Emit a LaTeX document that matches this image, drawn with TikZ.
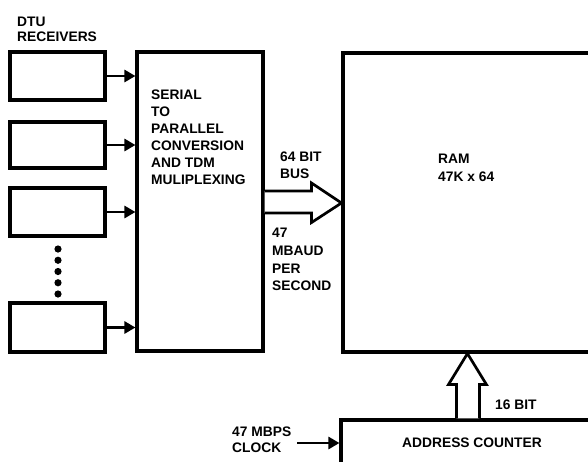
\documentclass[tikz,border=0pt]{standalone}
\usepackage{fontspec}
\setmainfont{Liberation Sans}
\usetikzlibrary{arrows.meta,calc}
\begin{document}
\begin{tikzpicture}[x=1pt,y=-1pt,
  box/.style={draw, line width=3.1pt, inner sep=0pt},
  conn/.style={line width=2.7pt, -{Triangle[length=11pt,width=12pt]}},
  bus/.style={draw, fill=white, line width=2.7pt, line join=miter},
  lbl/.style={inner sep=0pt, anchor=north west, align=left, font=\bfseries\fontsize{13.8}{#1}\selectfont},
  lbl/.default=17pt]
\clip (0,0) rectangle (588,461);
% receivers
\node[box, minimum width=95pt, minimum height=48pt] (r1) at (57.5,76) {};
\node[box, minimum width=95pt, minimum height=46pt] (r2) at (57.5,145) {};
\node[box, minimum width=95pt, minimum height=48pt] (r3) at (57.5,212) {};
\node[box, minimum width=95pt, minimum height=49pt] (r4) at (57.5,327.5) {};
\foreach \yy in {249,260.25,271.5,282.75,294} \fill (58,\yy) circle (3.6pt);
% main blocks
\node[box, minimum width=126pt, minimum height=299pt] (ser) at (200,201.5) {};
\node[box, minimum width=277pt, minimum height=299pt] (ram) at (481.5,202.5) {};
\node[box, minimum width=279pt, minimum height=80pt] (addr) at (480.5,460) {};
% connectors from receivers
\draw[conn] (r1.east) -- (r1.east -| ser.west);
\draw[conn] (r2.east) -- (r2.east -| ser.west);
\draw[conn] (r3.east) -- (r3.east -| ser.west);
\draw[conn] (r4.east) -- (r4.east -| ser.west);
% bus arrow to RAM
\draw[bus] ($(ser.east)+(0,-10.5)$) -- ($(ser.east)+(47,-10.5)$) -- ($(ser.east)+(47,-18.5)$)
  -- ($(ram.west)+(0,0.5)$) -- ($(ser.east)+(47,21)$) -- ($(ser.east)+(47,11.5)$) -- ($(ser.east)+(0,11.5)$);
% address bus up to RAM
\draw[bus] ($(addr.north west)+(117,0)$) -- ($(ram.south west)+(115,31)$) -- ($(ram.south west)+(107,31)$)
  -- ($(ram.south west)+(126,0)$) -- ($(ram.south west)+(145,31)$) -- ($(ram.south west)+(138,31)$)
  -- ($(addr.north west)+(140,0)$);
% clock
\coordinate (clkin) at (297,443);
\draw[conn] (clkin) -- (clkin -| addr.west);
% labels
\node[lbl=15pt] (tdtu) at (17,17) {DTU\\RECEIVERS};
\node[lbl] (tser) at (151,90) {SERIAL\\TO\\PARALLEL\\CONVERSION\\AND TDM\\MULIPLEXING};
\node[lbl] (tbus) at (280,152) {64 BIT\\BUS};
\node[lbl=17.7pt] (tbaud) at (272,228) {47\\MBAUD\\PER\\SECOND};
\node[lbl=18pt] (tram) at (438,154) {RAM\\47K x 64};
\node[lbl] (t16) at (495,400) {16 BIT};
\node[lbl] (taddr) at (402,438) {ADDRESS COUNTER};
\node[lbl=16pt] (tclk) at (232,427) {47 MBPS\\CLOCK};
\end{tikzpicture}
\end{document}
